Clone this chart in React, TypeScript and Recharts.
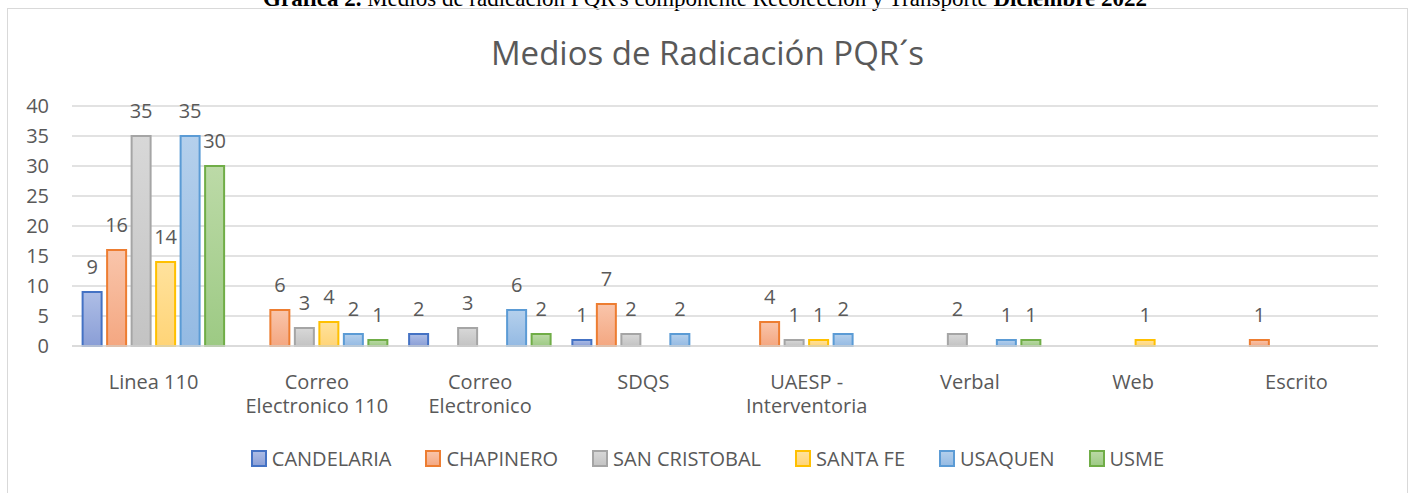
import { BarChart, Bar, XAxis, YAxis, CartesianGrid, LabelList } from 'recharts'

const categories = ['Linea 110', 'Correo Electronico 110', 'Correo Electronico', 'SDQS', 'UAESP - Interventoria', 'Verbal', 'Web', 'Escrito']
const candelaria = [9, null, 2, 1, null, null, null, null]
const chapinero = [16, 6, null, 7, 4, null, null, 1]
const sanCristobal = [35, 3, 3, 2, 1, 2, null, null]
const santaFe = [14, 4, null, null, 1, null, 1, null]
const usaquen = [35, 2, 6, 2, 2, 1, null, null]
const usme = [30, 1, 2, null, null, 1, null, null]
const yTicks = [0, 5, 10, 15, 20, 25, 30, 35, 40]

const FONT = "'Open Sans', sans-serif"
const GREY = '#595959'

const series = [
    { key: 'CANDELARIA', values: candelaria, stroke: '#4472C4', top: '#aebee6', bottom: '#8a9ed6' },
    { key: 'CHAPINERO', values: chapinero, stroke: '#ED7D31', top: '#f9c5ab', bottom: '#f4a781' },
    { key: 'SAN CRISTOBAL', values: sanCristobal, stroke: '#A5A5A5', top: '#d8d8d8', bottom: '#c3c3c3' },
    { key: 'SANTA FE', values: santaFe, stroke: '#FFC000', top: '#ffe29d', bottom: '#ffd477' },
    { key: 'USAQUEN', values: usaquen, stroke: '#5B9BD5', top: '#b5d0ec', bottom: '#94bae3' },
    { key: 'USME', values: usme, stroke: '#70AD47', top: '#bcdaa7', bottom: '#9dca84' },
]

const data = categories.map((name, i) => {
    const row: Record<string, string | number | null> = { name }
    series.forEach(s => { row[s.key] = s.values[i] })
    return row
})

let ctx: CanvasRenderingContext2D | null = null
const measure = (t: string) => {
    if (!ctx) {
        ctx = document.createElement('canvas').getContext('2d')
        if (ctx) ctx.font = "20px 'Open Sans'"
    }
    return ctx ? ctx.measureText(t).width : t.length * 10
}

// greedy word wrap, like Excel does for long category names
const wrap = (label: string, max: number) => {
    const lines: string[] = []
    let cur = ''
    label.split(' ').forEach(w => {
        const next = cur ? cur + ' ' + w : w
        if (cur && measure(next) > max) {
            lines.push(cur)
            cur = w
        } else cur = next
    })
    if (cur) lines.push(cur)
    return lines
}

const CategoryTick = (props: any) => {
    const { x, y, payload } = props
    const lines = wrap(String(payload.value), 150)
    return (
        <text x={x} y={y + 43} textAnchor='middle' fill={GREY} fontSize={20} fontFamily={FONT}>
            {lines.map((l, i) => <tspan key={i} x={x} dy={i === 0 ? 0 : 24}>{l}</tspan>)}
        </text>
    )
}

const App = () => {
    return (
        <div style={{ position: 'absolute', left: 0, top: 0, width: 1410, height: 493, overflow: 'hidden', background: '#fff' }}>
            {/* caption above the chart box, cut off by the page top */}
            <div style={{ position: 'absolute', top: -13, left: 0, width: 1410, textAlign: 'center', fontFamily: "'Liberation Serif', serif", fontSize: 23, lineHeight: '23px', color: '#000', whiteSpace: 'nowrap' }}>
                <b>Grafica 2.</b> Medios de radicación PQR's componente Recolección y Transporte <b>Diciembre 2022</b>
            </div>
            <div style={{ position: 'absolute', left: 7, top: 8, width: 1401, height: 500, boxSizing: 'border-box', border: '1px solid #d9d9d9' }}>
                <div style={{ position: 'absolute', top: 27, left: 0, width: 1399, textAlign: 'center', fontFamily: FONT, fontSize: 33, lineHeight: '33px', color: GREY }}>
                    Medios de Radicación PQR´s
                </div>
                <BarChart width={1399} height={440} data={data} margin={{ top: 97, right: 29, bottom: 0, left: 8 }}
                    barCategoryGap='6.5%' barGap={5.5}>
                    <defs>
                        {series.map((s, i) => (
                            <linearGradient key={s.key} id={'grad' + i} x1='0' y1='0' x2='0' y2='1'>
                                <stop offset='0%' stopColor={s.top} />
                                <stop offset='100%' stopColor={s.bottom} />
                            </linearGradient>
                        ))}
                    </defs>
                    <CartesianGrid vertical={false} stroke='#d9d9d9' strokeWidth={1.5} />
                    <XAxis dataKey='name' height={103} tickSize={0} tickMargin={0} tickLine={false}
                        axisLine={{ stroke: '#d9d9d9', strokeWidth: 1.5 }} tick={<CategoryTick />} interval={0} />
                    <YAxis width={56} domain={[0, 40]} ticks={yTicks} interval={0} axisLine={false} tickLine={false} tickSize={0} tickMargin={23}
                        tick={{ fill: GREY, fontSize: 20, fontFamily: FONT }} />
                    {series.map((s, i) => (
                        <Bar key={s.key} dataKey={s.key} fill={`url(#grad${i})`} stroke={s.stroke} strokeWidth={2} isAnimationActive={false}>
                            <LabelList dataKey={s.key} position='top' offset={18} fill={GREY} fontSize={20} fontFamily={FONT} />
                        </Bar>
                    ))}
                </BarChart>
                <div style={{ position: 'absolute', top: 436, left: 0, width: 1399, display: 'flex', justifyContent: 'center', alignItems: 'center', fontFamily: FONT, fontSize: 20, color: GREY }}>
                    {series.map((s, i) => (
                        <div key={s.key} style={{ display: 'flex', alignItems: 'center', marginRight: i < series.length - 1 ? 34 : 0 }}>
                            <svg width={17} height={17} style={{ marginRight: 4 }}>
                                <defs>
                                    <linearGradient id={'lg' + i} x1='0' y1='0' x2='0' y2='1'>
                                        <stop offset='0%' stopColor={s.top} />
                                        <stop offset='100%' stopColor={s.bottom} />
                                    </linearGradient>
                                </defs>
                                <rect x={1} y={1} width={14} height={15} fill={`url(#lg${i})`} stroke={s.stroke} strokeWidth={2} />
                            </svg>
                            <span>{s.key}</span>
                        </div>
                    ))}
                </div>
            </div>
        </div>
    )
}

export default App
